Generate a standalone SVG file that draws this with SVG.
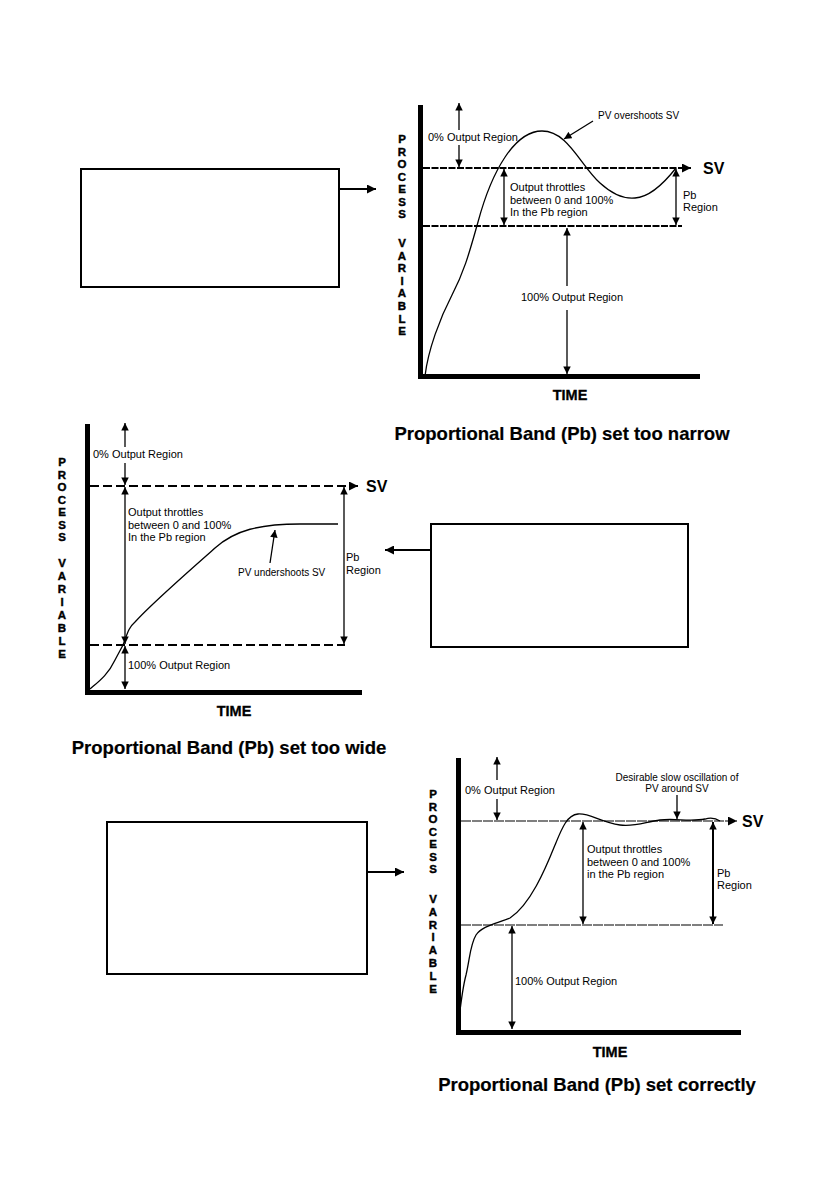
<svg xmlns="http://www.w3.org/2000/svg" width="840" height="1191" viewBox="0 0 840 1191">
<style>
text{font-family:"Liberation Sans",Arial,sans-serif;fill:#000}
.lbl{font-size:11px}
.sm{font-size:10px}
.vt{font-size:11.5px;font-weight:bold;text-anchor:middle;stroke:#000;stroke-width:0.4}
.sv{font-size:16px;font-weight:bold}
.time{font-size:14.5px;font-weight:bold;text-anchor:middle;stroke:#000;stroke-width:0.3}
.title{font-size:18.5px;font-weight:bold;text-anchor:middle;stroke:#000;stroke-width:0.2}
.axis{fill:none;stroke:#000;stroke-width:5;stroke-linejoin:miter}
.arr{stroke:#000;stroke-width:1.3;fill:none}
.curve{fill:none;stroke:#000;stroke-width:1.3}
.box{fill:#fff;stroke:#000;stroke-width:2}
.conn{stroke:#000;stroke-width:2;fill:none}
</style>
<defs>
<marker id="ah" viewBox="0 0 10 10" refX="10" refY="5" markerWidth="8.5" markerHeight="7.5" markerUnits="userSpaceOnUse" orient="auto-start-reverse"><path d="M0,0 L10,5 L0,10 z" fill="#000"/></marker>
<marker id="ahb" viewBox="0 0 10 10" refX="10" refY="5" markerWidth="11" markerHeight="9" markerUnits="userSpaceOnUse" orient="auto-start-reverse"><path d="M0,0 L10,5 L0,10 z" fill="#000"/></marker>
</defs>

<g id="chart-narrow">
<path class="axis" d="M420.5,105 V376.5 H700"/>
<g class="vt">
<text x="402" y="143">P</text><text x="402" y="155.5">R</text><text x="402" y="168">O</text><text x="402" y="180.5">C</text><text x="402" y="193">E</text><text x="402" y="205.5">S</text><text x="402" y="218">S</text>
<text x="402" y="247">V</text><text x="402" y="259.6">A</text><text x="402" y="272.2">R</text><text x="402" y="284.8">I</text><text x="402" y="297.4">A</text><text x="402" y="310">B</text><text x="402" y="322.6">L</text><text x="402" y="335.2">E</text>
</g>
<line x1="423" y1="168" x2="691" y2="168" stroke="#000" stroke-width="2" stroke-dasharray="7,1.5" marker-end="url(#ahb)"/>
<line x1="423" y1="226" x2="682" y2="226" stroke="#000" stroke-width="2" stroke-dasharray="7,1.5"/>
<text class="sv" x="703" y="174">SV</text>
<line class="arr" x1="459" y1="130" x2="459" y2="103" marker-end="url(#ah)"/>
<text class="lbl" x="428" y="141">0% Output Region</text>
<line class="arr" x1="459" y1="145" x2="459" y2="167" marker-end="url(#ah)"/>
<line class="arr" x1="504" y1="169" x2="504" y2="225" marker-start="url(#ah)" marker-end="url(#ah)"/>
<text class="lbl" x="510" y="191">Output throttles</text>
<text class="lbl" x="510" y="204">between 0 and 100%</text>
<text class="lbl" x="510" y="216">In the Pb region</text>
<line class="arr" x1="676" y1="169" x2="676" y2="225" marker-start="url(#ah)" marker-end="url(#ah)"/>
<text class="lbl" x="683" y="199">Pb</text>
<text class="lbl" x="683" y="211">Region</text>
<line class="arr" x1="567" y1="286" x2="567" y2="228" marker-end="url(#ah)"/>
<text class="lbl" x="572" y="301" text-anchor="middle">100% Output Region</text>
<line class="arr" x1="567" y1="310" x2="567" y2="374" marker-end="url(#ah)"/>
<text class="sm" x="598" y="119">PV overshoots SV</text>
<line class="arr" x1="593" y1="121" x2="564" y2="139" marker-end="url(#ah)"/>
<path class="curve" d="M425,376 C428,350 440,318 452,295 C465,270 470,250 478,222 C492,170 515,131 542,131 C568,131 580,165 600,183 C612,194 625,199 635,198 C650,197 665,182 676,168"/>
<text class="time" x="570" y="400">TIME</text>
<text class="title" x="562" y="440">Proportional Band (Pb) set too narrow</text>
</g>

<g id="chart-wide">
<path class="axis" d="M87.5,424 V692.5 H362"/>
<g class="vt">
<text x="62" y="466">P</text><text x="62" y="478.5">R</text><text x="62" y="491">O</text><text x="62" y="503.5">C</text><text x="62" y="516">E</text><text x="62" y="528.5">S</text><text x="62" y="541">S</text>
<text x="62" y="567">V</text><text x="62" y="580">A</text><text x="62" y="593">R</text><text x="62" y="606">I</text><text x="62" y="619">A</text><text x="62" y="632">B</text><text x="62" y="645">L</text><text x="62" y="658">E</text>
</g>
<line x1="90" y1="486" x2="358" y2="486" stroke="#000" stroke-width="2" stroke-dasharray="9,4" marker-end="url(#ahb)"/>
<line x1="90" y1="645" x2="345" y2="645" stroke="#000" stroke-width="2" stroke-dasharray="9,4"/>
<text class="sv" x="366" y="492">SV</text>
<line class="arr" x1="125" y1="447" x2="125" y2="423" marker-end="url(#ah)"/>
<text class="lbl" x="93" y="458">0% Output Region</text>
<line class="arr" x1="125" y1="463" x2="125" y2="485" marker-end="url(#ah)"/>
<line class="arr" x1="125" y1="487" x2="125" y2="644" marker-start="url(#ah)" marker-end="url(#ah)"/>
<text class="lbl" x="128" y="516">Output throttles</text>
<text class="lbl" x="128" y="529">between 0 and 100%</text>
<text class="lbl" x="128" y="541">In the Pb region</text>
<line class="arr" x1="125" y1="646" x2="125" y2="689" marker-start="url(#ah)" marker-end="url(#ah)"/>
<text class="lbl" x="128" y="669">100% Output Region</text>
<line class="arr" x1="344" y1="487" x2="344" y2="644" marker-start="url(#ah)" marker-end="url(#ah)"/>
<text class="lbl" x="346" y="561">Pb</text>
<text class="lbl" x="346" y="574">Region</text>
<text class="sm" x="238" y="576">PV undershoots SV</text>
<line class="arr" x1="270" y1="563" x2="275" y2="530" marker-end="url(#ah)"/>
<path class="curve" d="M90,689 C98,682 108,675 115,660 L123,645 C127,635 128,628 135,622 C150,605 190,570 215,548 C235,530 260,524 300,524 L338,524"/>
<text class="time" x="234" y="716">TIME</text>
<text class="title" x="229" y="754">Proportional Band (Pb) set too wide</text>
</g>

<g id="chart-correct">
<path class="axis" d="M458.5,758 V1032.5 H741"/>
<g class="vt">
<text x="433" y="798">P</text><text x="433" y="810.5">R</text><text x="433" y="823">O</text><text x="433" y="835.5">C</text><text x="433" y="848">E</text><text x="433" y="860.5">S</text><text x="433" y="873">S</text>
<text x="433" y="903">V</text><text x="433" y="915.8">A</text><text x="433" y="928.6">R</text><text x="433" y="941.4">I</text><text x="433" y="954.2">A</text><text x="433" y="967">B</text><text x="433" y="979.8">L</text><text x="433" y="992.6">E</text>
</g>
<line x1="461" y1="821" x2="737" y2="821" stroke="#000" stroke-width="1.2" stroke-dasharray="10,1" marker-end="url(#ahb)"/>
<line x1="461" y1="925" x2="723" y2="925" stroke="#000" stroke-width="1.2" stroke-dasharray="10,1"/>
<text class="sv" x="742" y="827">SV</text>
<line class="arr" x1="497" y1="780" x2="497" y2="757" marker-end="url(#ah)"/>
<text class="lbl" x="465" y="794">0% Output Region</text>
<line class="arr" x1="497" y1="799" x2="497" y2="820" marker-end="url(#ah)"/>
<line class="arr" x1="583" y1="822" x2="583" y2="924" marker-start="url(#ah)" marker-end="url(#ah)"/>
<text class="lbl" x="587" y="853">Output throttles</text>
<text class="lbl" x="587" y="866">between 0 and 100%</text>
<text class="lbl" x="587" y="878">in the Pb region</text>
<line x1="713" y1="822" x2="713" y2="924" stroke="#000" stroke-width="2" marker-start="url(#ah)" marker-end="url(#ah)"/>
<text class="lbl" x="717" y="877">Pb</text>
<text class="lbl" x="717" y="889">Region</text>
<text class="sm" x="677" y="781" text-anchor="middle">Desirable slow oscillation of</text>
<text class="sm" x="677" y="792" text-anchor="middle">PV around SV</text>
<line class="arr" x1="677" y1="795" x2="677" y2="819" marker-end="url(#ah)"/>
<line class="arr" x1="512" y1="926" x2="512" y2="1029" marker-start="url(#ah)" marker-end="url(#ah)"/>
<text class="lbl" x="515" y="985">100% Output Region</text>
<path class="curve" d="M458,1028 C460,1010 462,990 466,975 C470,958 470,945 476,935 C482,926 495,924 510,918 C530,905 545,870 555,845 C562,828 567,815 578,814 C590,813 600,822 620,825 C635,827 645,822 660,820 C675,818 690,822 705,819 C712,817 717,819 720,821"/>
<text class="time" x="610" y="1057">TIME</text>
<text class="title" x="597" y="1091">Proportional Band (Pb) set correctly</text>
</g>

<g id="box-1"><rect class="box" x="81" y="169" width="258" height="118"/></g>
<g id="box-2"><rect class="box" x="431" y="524" width="257" height="123"/></g>
<g id="box-3"><rect class="box" x="107" y="822" width="260" height="152"/></g>

<g id="connectors">
<line class="conn" x1="340" y1="189" x2="376" y2="189" marker-end="url(#ahb)"/>
<line class="conn" x1="430" y1="550" x2="385" y2="550" marker-end="url(#ahb)"/>
<line class="conn" x1="368" y1="872" x2="404" y2="872" marker-end="url(#ahb)"/>
</g>
</svg>
